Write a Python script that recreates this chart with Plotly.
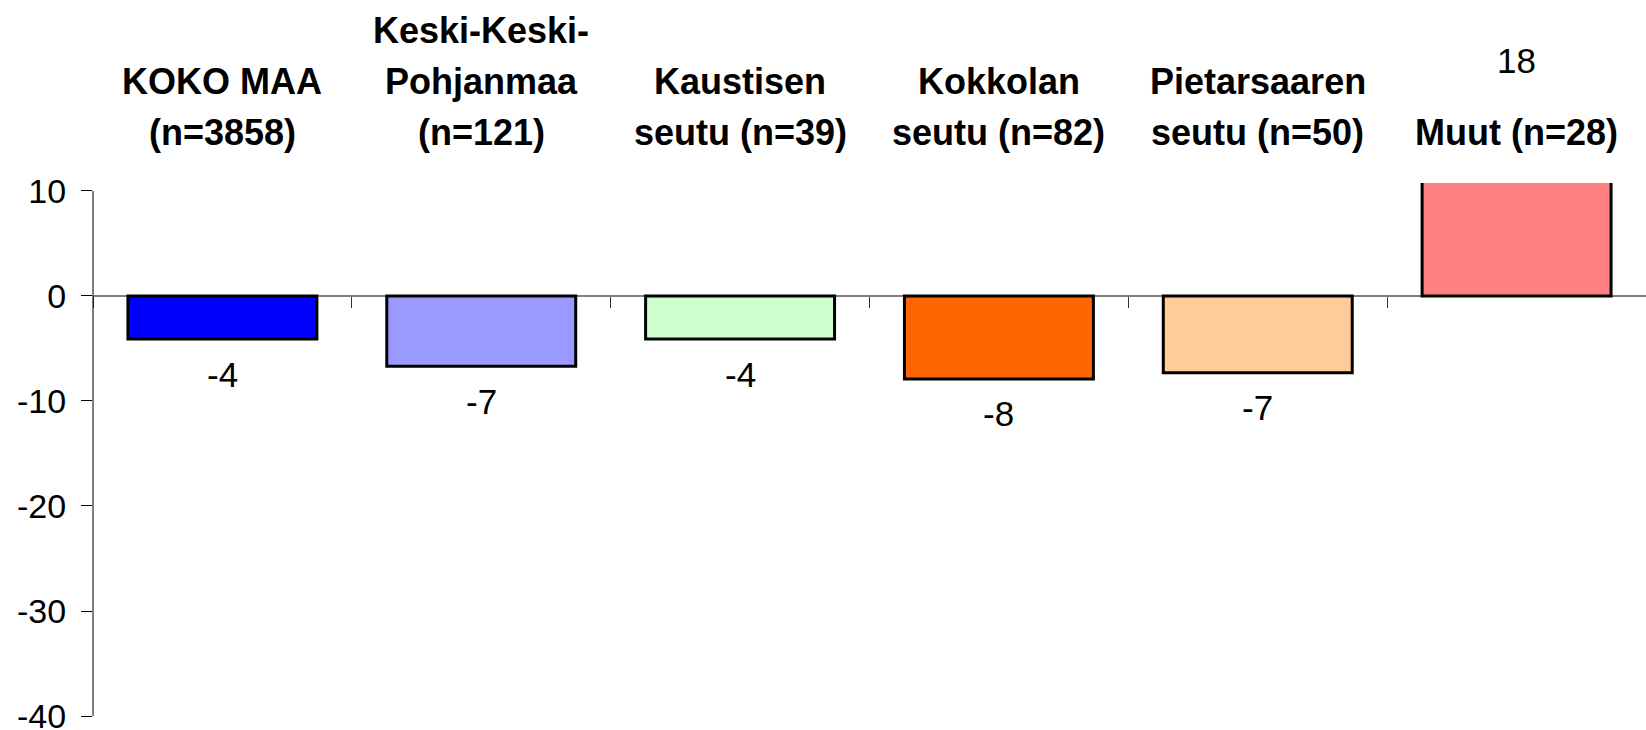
import plotly.graph_objects as go

categories = [
    "KOKO MAA\n(n=3858)",
    "Keski-Keski-\nPohjanmaa\n(n=121)",
    "Kaustisen\nseutu (n=39)",
    "Kokkolan\nseutu (n=82)",
    "Pietarsaaren\nseutu (n=50)",
    "Muut (n=28)",
]
values = [-4.1, -6.7, -4.1, -7.9, -7.3, 18]
value_labels = ["-4", "-7", "-4", "-8", "-7", "18"]
colors = ["#0000FF", "#9999FF", "#CCFFCC", "#FF6600", "#FFCC99", "#FF8080"]
y_tickvals = [10, 0, -10, -20, -30, -40]
y_ticktext = ["10", "0", "-10", "-20", "-30", "-40"]

Y_MIN, Y_MAX = -40, 10.76
FONT = "Liberation Sans, Arial, sans-serif"

fig = go.Figure(
    go.Bar(
        x=categories,
        y=values,
        marker=dict(color=colors, line=dict(color="black", width=3)),
        hoverinfo="skip",
        showlegend=False,
    )
)

annotations = []
for cat in categories:
    lines = cat.split("\n")
    for k, line in enumerate(reversed(lines)):
        annotations.append(dict(
            x=cat, xref="x", y=1, yref="paper", yanchor="middle",
            yshift=51 + 51 * k, text=line, showarrow=False,
            font=dict(family=FONT, size=36, color="black", weight="bold"),
        ))

for cat, v, lbl in zip(categories, values, value_labels):
    if Y_MIN <= v <= Y_MAX:
        annotations.append(dict(
            x=cat, xref="x", y=v, yref="y", yanchor="middle",
            yshift=-35 if v < 0 else 35, text=lbl, showarrow=False,
            font=dict(family=FONT, size=35, color="black"),
        ))
    else:
        annotations.append(dict(
            x=cat, xref="x", y=1, yref="paper", yanchor="middle",
            yshift=123, text=lbl, showarrow=False,
            font=dict(family=FONT, size=35, color="black"),
        ))

fig.update_layout(
    width=1646, height=730,
    margin=dict(l=93, r=0, t=183, b=14, autoexpand=False),
    paper_bgcolor="white", plot_bgcolor="white",
    bargap=0.27,
    font=dict(family=FONT, color="black"),
    annotations=annotations,
    shapes=[dict(
        type="line", xref="paper", x0=0, x1=0, yref="y",
        y0=min(y_tickvals), y1=max(y_tickvals),
        line=dict(color="black", width=1), layer="above",
    )],
    xaxis=dict(
        type="category", anchor="free", automargin=False,
        position=(0 - Y_MIN) / (Y_MAX - Y_MIN),
        showline=True, linecolor="#808080", linewidth=2,
        ticks="outside", tickson="boundaries", ticklen=11,
        tickcolor="#333333", tickwidth=1,
        showticklabels=False, showgrid=False, zeroline=False,
        layer="below traces",
    ),
    yaxis=dict(
        range=[Y_MIN, Y_MAX], automargin=False,
        tickvals=y_tickvals, ticktext=y_ticktext,
        ticks="outside", ticklen=11, tickcolor="black", tickwidth=1,
        ticklabelstandoff=8, ticklabeloverflow="allow",
        tickfont=dict(family=FONT, size=34, color="black"),
        showline=False, showgrid=False, zeroline=False,
    ),
)

fig.write_html(
    "out.html",
    config={"displayModeBar": False},
    post_script="document.body.style.margin='0px';document.body.style.overflow='hidden';",
)
